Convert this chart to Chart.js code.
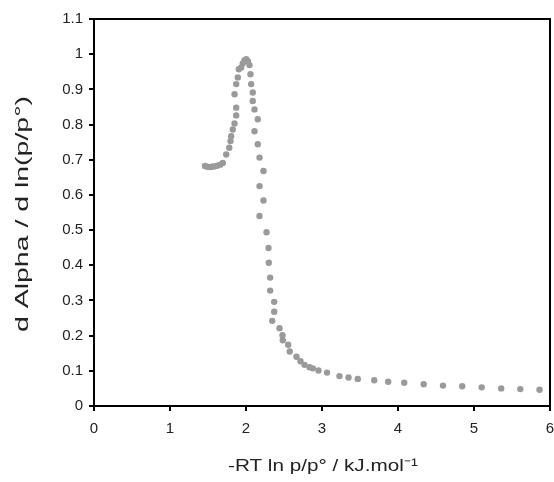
<!DOCTYPE html>
<html>
<head>
<meta charset="utf-8">
<script src="https://cdn.jsdelivr.net/npm/chart.js@4"></script>
<style>
  html, body { margin: 0; padding: 0; background: #fff; }
  #wrap { width: 554px; height: 482px; }
</style>
</head>
<body>
<div id="wrap"><canvas id="chart" width="554" height="482"></canvas></div>
<script>
// values
const xValues = [
  1.46, 1.49, 1.52, 1.55, 1.58, 1.62, 1.66, 1.695, 1.74, 1.78, 1.796, 1.805, 1.826, 1.849,
  1.871, 1.871, 1.849, 1.871, 1.892, 1.905, 1.937, 1.958, 1.98, 2.003, 2.024, 2.046,
  2.059, 2.068, 2.089, 2.089, 2.112, 2.155, 2.112, 2.155, 2.178, 2.23, 2.178, 2.23, 2.178,
  2.27, 2.296, 2.3, 2.318, 2.318, 2.371, 2.371, 2.345, 2.441, 2.48, 2.484, 2.555, 2.576,
  2.664, 2.717, 2.77, 2.836, 2.879, 2.954, 3.066, 3.23, 3.349, 3.471, 3.687, 3.871,
  4.082, 4.338, 4.592, 4.845, 5.101, 5.358, 5.609, 5.862
];
const yValues = [
  0.682, 0.68, 0.679, 0.68, 0.681, 0.683, 0.686, 0.691, 0.715, 0.734, 0.753, 0.767, 0.786, 0.803,
  0.826, 0.848, 0.886, 0.915, 0.934, 0.957, 0.962, 0.974, 0.982, 0.986, 0.98, 0.969,
  0.943, 0.915, 0.891, 0.867, 0.843, 0.815, 0.781, 0.744, 0.706, 0.668, 0.625, 0.584, 0.54,
  0.494, 0.449, 0.407, 0.365, 0.328, 0.296, 0.268, 0.242, 0.221, 0.201, 0.187, 0.174, 0.155,
  0.14, 0.127, 0.117, 0.11, 0.107, 0.101, 0.095, 0.085, 0.081, 0.077, 0.073, 0.069,
  0.066, 0.062, 0.058, 0.056, 0.053, 0.05, 0.048, 0.046
];
const xTitle = '-RT ln p/p\u00B0 / kJ.mol\u207B\u00B9';
const yTitle = 'd Alpha / d ln(p/p\u00B0)';

const points = xValues.map((x, i) => ({ x: x, y: yValues[i] }));
const family = 'Liberation Sans, Arial, sans-serif';

// top and right sides of the plot frame
const frame = {
  id: 'frame',
  afterDraw(chart) {
    const a = chart.chartArea, c = chart.ctx;
    c.save();
    c.strokeStyle = '#000';
    c.lineWidth = 2;
    c.beginPath();
    c.moveTo(a.left, a.top);
    c.lineTo(a.right, a.top);
    c.lineTo(a.right, a.bottom);
    c.stroke();
    c.restore();
  }
};

// axis titles, stretched along the baseline like in the original figure
function stretchedText(c, text, x, y, width, rot) {
  c.save();
  c.translate(x, y);
  c.rotate(rot);
  const w = c.measureText(text).width;
  c.scale(width / w, 1);
  c.fillText(text, 0, 0);
  c.restore();
}
const titles = {
  id: 'titles',
  afterDraw(chart) {
    const c = chart.ctx;
    c.save();
    c.fillStyle = '#222';
    c.textAlign = 'center';
    c.textBaseline = 'middle';
    c.font = '17px ' + family;
    stretchedText(c, xTitle, 323, 466, 190, 0);
    c.font = '18px ' + family;
    stretchedText(c, yTitle, 23, 214, 236, -Math.PI / 2);
    c.restore();
  }
};

const tickFont = { family: family, size: 15 };

new Chart(document.getElementById('chart').getContext('2d'), {
  type: 'scatter',
  data: {
    datasets: [{
      data: points,
      backgroundColor: '#9a9a9a',
      borderWidth: 0,
      pointRadius: 3.2
    }]
  },
  options: {
    responsive: false,
    animation: false,
    layout: { padding: { top: 19, right: 3, left: 0, bottom: 0 } },
    plugins: { legend: { display: false }, tooltip: { enabled: false } },
    scales: {
      x: {
        type: 'linear',
        min: 0, max: 6,
        afterFit: s => { s.height = 76; s.paddingRight = 0; s.paddingLeft = 0; },
        ticks: { stepSize: 1, color: '#222', font: tickFont, padding: 9, maxRotation: 0 },
        grid: { drawOnChartArea: false, drawTicks: true, tickLength: 5, color: '#000', lineWidth: 2 },
        border: { display: true, color: '#000', width: 2 }
      },
      y: {
        type: 'linear',
        min: 0, max: 1.1,
        afterFit: s => { s.width = 94; },
        ticks: { stepSize: 0.1, color: '#222', font: tickFont, padding: 6, callback: v => String(+v.toFixed(1)) },
        grid: { drawOnChartArea: false, drawTicks: true, tickLength: 5, color: '#000', lineWidth: 2 },
        border: { display: true, color: '#000', width: 2 }
      }
    }
  },
  plugins: [frame, titles]
});
</script>
</body>
</html>
